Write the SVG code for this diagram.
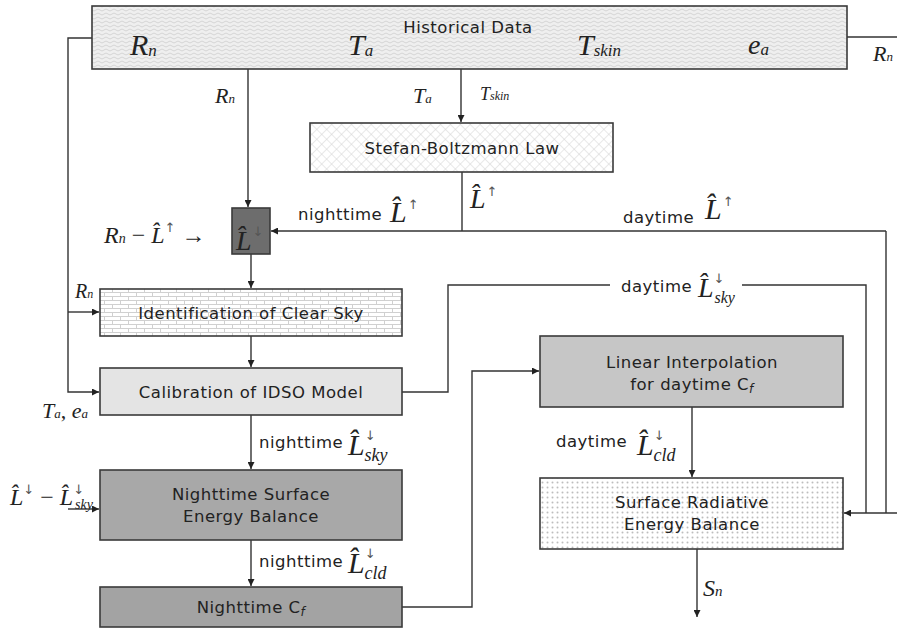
<svg xmlns="http://www.w3.org/2000/svg" width="897" height="631" viewBox="0 0 897 631">
<style>
.box{stroke:#3a3a3a;stroke-width:1.6}
.lbl{font-family:"DejaVu Sans",Verdana,sans-serif;font-size:16.5px;letter-spacing:0.5px;fill:#222}
.ctr{text-anchor:middle}
.m{font-family:"Liberation Serif","Times New Roman",serif;font-style:italic;fill:#222}
.ar{font-family:"DejaVu Sans",sans-serif;font-style:normal;font-size:13px;fill:#555}
.con{fill:none;stroke:#333;stroke-width:1.4}
</style>
<defs>
<marker id="ah" viewBox="0 0 10 10" refX="10" refY="5" markerWidth="7" markerHeight="7" orient="auto" markerUnits="userSpaceOnUse">
<path d="M0,0 L10,5 L0,10 z" fill="#222"/>
</marker>
<pattern id="wave" width="8" height="4" patternUnits="userSpaceOnUse">
<rect width="8" height="4" fill="#efefef"/>
<path d="M0,2 Q2,0 4,2 T8,2" fill="none" stroke="#cdcdcd" stroke-width="0.8"/>
</pattern>
<pattern id="hatch" width="7" height="7" patternUnits="userSpaceOnUse" patternTransform="rotate(45)">
<rect width="7" height="7" fill="#ffffff"/>
<path d="M0,0 H7 M0,0 V7" stroke="#d2d2d2" stroke-width="1"/>
</pattern>
<pattern id="brick" width="16" height="8" patternUnits="userSpaceOnUse">
<rect width="16" height="8" fill="#ffffff"/>
<path d="M0,0.5 H16 M0,4.5 H16 M0.5,0 V4.5 M8.5,4.5 V8" stroke="#d0d0d0" stroke-width="1"/>
</pattern>
<pattern id="dots" width="5" height="5" patternUnits="userSpaceOnUse">
<rect width="5" height="5" fill="#ffffff"/>
<circle cx="2.5" cy="2.5" r="1" fill="#bdbdbd"/>
</pattern>
</defs>

<g id="connectors">
<path class="con" d="M92,38 H68 V392 H99" marker-end="url(#ah)"/>
<path class="con" d="M68,312 H99" marker-end="url(#ah)"/>
<path class="con" d="M847,37 H897"/>
<path class="con" d="M248,69 V207" marker-end="url(#ah)"/>
<path class="con" d="M461,69 V122" marker-end="url(#ah)"/>
<path class="con" d="M462,172 V231"/>
<path class="con" d="M886,231 H271" marker-end="url(#ah)"/>
<path class="con" d="M886,231 V513"/>
<path class="con" d="M251,254 V288" marker-end="url(#ah)"/>
<path class="con" d="M251,336 V367" marker-end="url(#ah)"/>
<path class="con" d="M402,392 H448 V285 H610"/>
<path class="con" d="M742,285 H866 V513"/>
<path class="con" d="M897,513 H844" marker-end="url(#ah)"/>
<path class="con" d="M692,407 V477" marker-end="url(#ah)"/>
<path class="con" d="M697,549 V617" marker-end="url(#ah)"/>
<path class="con" d="M251,415 V469" marker-end="url(#ah)"/>
<path class="con" d="M68,509 H99" marker-end="url(#ah)"/>
<path class="con" d="M251,540 V586" marker-end="url(#ah)"/>
<path class="con" d="M402,607 H472 V371 H539" marker-end="url(#ah)"/>
</g>

<g id="historical">
<rect class="box" x="92" y="6" width="755" height="63" fill="url(#wave)"/>
<text class="lbl ctr" x="468" y="33">Historical Data</text>
<text class="m" x="130" y="55" font-size="30">R<tspan font-size="17" dy="1">n</tspan></text>
<text class="m" x="348" y="55" font-size="30">T<tspan font-size="17" dy="1">a</tspan></text>
<text class="m" x="577" y="55" font-size="30">T<tspan font-size="17" dy="1">skin</tspan></text>
<text class="m" x="748" y="54" font-size="28">e<tspan font-size="17" dy="1">a</tspan></text>
</g>
<text class="m" x="873" y="61" font-size="22">R<tspan font-size="13">n</tspan></text>
<text class="m" x="215" y="103" font-size="22">R<tspan font-size="13">n</tspan></text>
<text class="m" x="413" y="103" font-size="22">T<tspan font-size="13">a</tspan></text>
<text class="m" x="480" y="100" font-size="18">T<tspan font-size="12">skin</tspan></text>

<g id="stefan">
<rect class="box" x="310" y="123" width="303" height="49" fill="url(#hatch)"/>
<text class="lbl ctr" x="462" y="154">Stefan-Boltzmann Law</text>
</g>

<g id="lhat-down">
<rect class="box" x="232" y="208" width="38" height="46" fill="#6d6d6d"/>
<text class="m" x="236" y="250" font-size="28">L̂<tspan class="ar" dx="1" dy="-14">↓</tspan></text>
</g>

<text class="lbl" x="298" y="220">nighttime</text>
<text class="m" x="390" y="222" font-size="30">L̂<tspan class="ar" dx="1" dy="-13" font-size="14">↑</tspan></text>

<text class="m" x="470" y="208" font-size="28">L̂<tspan class="ar" dx="1" dy="-12" font-size="14">↑</tspan></text>

<text class="lbl" x="623" y="223">daytime</text>
<text class="m" x="705" y="219" font-size="30">L̂<tspan class="ar" dx="1" dy="-13" font-size="14">↑</tspan></text>

<text class="m" x="104" y="243" font-size="24">R<tspan font-size="14">n</tspan><tspan font-style="normal"> − </tspan>L̂<tspan class="ar" dy="-11">↑</tspan><tspan font-style="normal" dy="11"> →</tspan></text>

<text class="lbl" x="621" y="292">daytime</text>
<text class="m" x="698" y="297" font-size="28">L̂<tspan class="ar" dx="0" dy="-14">↓</tspan><tspan font-size="16" dx="-10" dy="20">sky</tspan></text>

<g id="identification">
<rect class="box" x="100" y="289" width="302" height="47" fill="url(#brick)"/>
<text class="lbl ctr" x="251" y="319">Identification of Clear Sky</text>
</g>
<text class="m" x="75" y="298" font-size="20">R<tspan font-size="12">n</tspan></text>

<g id="calibration">
<rect class="box" x="100" y="368" width="302" height="47" fill="#e4e4e4"/>
<text class="lbl ctr" x="251" y="398">Calibration of IDSO Model</text>
</g>
<text class="m" x="42" y="418" font-size="22">T<tspan font-size="13">a</tspan><tspan font-style="normal">, </tspan>e<tspan font-size="13">a</tspan></text>

<g id="linear">
<rect class="box" x="540" y="336" width="303" height="71" fill="#c6c6c6"/>
<text class="lbl ctr" x="692" y="368">Linear Interpolation</text>
<text class="lbl ctr" x="692" y="390">for daytime C<tspan font-size="12" dy="3" font-style="italic">f</tspan></text>
</g>

<text class="lbl" x="556" y="447">daytime</text>
<text class="m" x="637" y="455" font-size="30">L̂<tspan class="ar" dx="0" dy="-15">↓</tspan><tspan font-size="18" dx="-11" dy="21">cld</tspan></text>

<g id="surface-radiative">
<rect class="box" x="540" y="478" width="303" height="71" fill="url(#dots)"/>
<text class="lbl ctr" x="692" y="508">Surface Radiative</text>
<text class="lbl ctr" x="692" y="530">Energy Balance</text>
</g>
<text class="m" x="703" y="596" font-size="24">S<tspan font-size="15">n</tspan></text>

<text class="lbl" x="259" y="448">nighttime</text>
<text class="m" x="348" y="455" font-size="30">L̂<tspan class="ar" dx="0" dy="-15">↓</tspan><tspan font-size="18" dx="-11" dy="21">sky</tspan></text>

<g id="nighttime-seb">
<rect class="box" x="100" y="470" width="302" height="70" fill="#a8a8a8"/>
<text class="lbl ctr" x="251" y="500">Nighttime Surface</text>
<text class="lbl ctr" x="251" y="522">Energy Balance</text>
</g>

<text class="m" x="10" y="505" font-size="24">L̂<tspan class="ar" dy="-11" font-size="12">↓</tspan><tspan font-style="normal" dy="11"> − </tspan>L̂<tspan class="ar" dy="-11" font-size="12">↓</tspan><tspan font-size="14" dx="-9" dy="15">sky</tspan></text>

<text class="lbl" x="259" y="567">nighttime</text>
<text class="m" x="348" y="573" font-size="30">L̂<tspan class="ar" dx="0" dy="-15">↓</tspan><tspan font-size="18" dx="-11" dy="21">cld</tspan></text>

<g id="nighttime-cf">
<rect class="box" x="100" y="587" width="302" height="40" fill="#a3a3a3"/>
<text class="lbl ctr" x="251" y="613">Nighttime C<tspan font-size="12" dy="3" font-style="italic">f</tspan></text>
</g>
</svg>
